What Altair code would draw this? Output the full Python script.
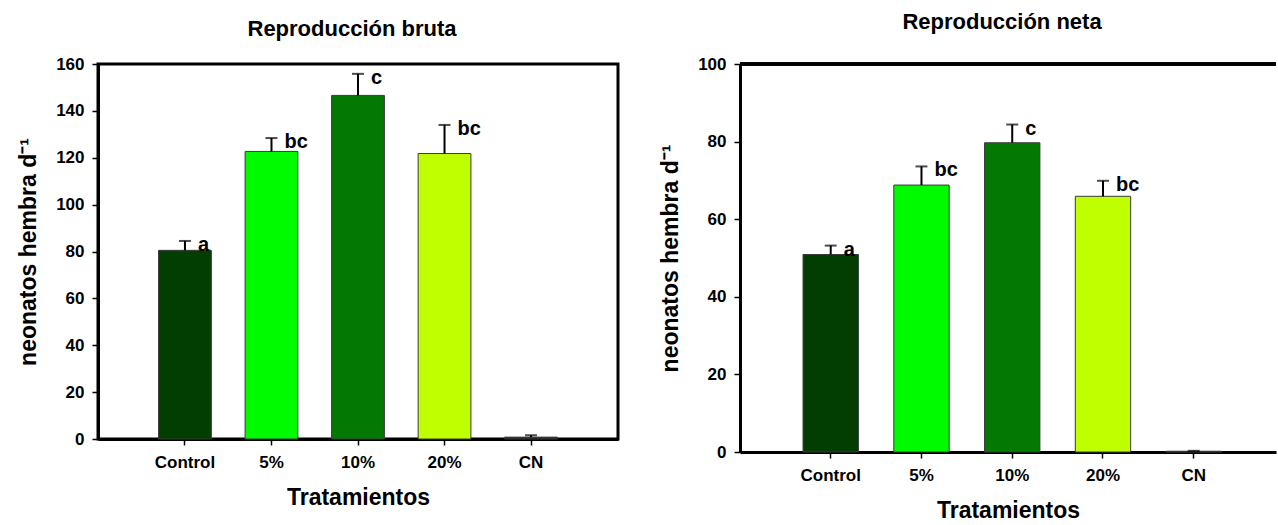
import altair as alt
import pandas as pd

# Treatments on the x axis
treatments = ["Control", "5%", "10%", "20%", "CN"]
bar_colors = ["#023d02", "#00fa00", "#037803", "#c0ff00", "#1a1a1a"]

# Gross reproduction (neonates per female per day): mean and standard error
bruta_mean = [80.5, 122.7, 146.6, 121.8, 0.8]
bruta_se = [4.0, 5.7, 9.2, 12.2, 0.8]
bruta_letters = ["a", "bc", "c", "bc", ""]

# Net reproduction
neta_mean = [50.9, 68.8, 79.7, 65.9, 0.2]
neta_se = [2.3, 4.8, 4.7, 4.0, 0.1]
neta_letters = ["a", "bc", "c", "bc", ""]

FONT = "Liberation Sans"


def make_frame(means, ses, letters):
    return pd.DataFrame({
        "tratamiento": treatments,
        "media": means,
        "sup": [m + s for m, s in zip(means, ses)],
        "letra": letters,
        "color": bar_colors,
    })


def panel(df, ymax, title, width, height, x_scale, title_offset, title_dx, framed):
    x = alt.X("tratamiento:N", sort=treatments, scale=x_scale,
              axis=alt.Axis(title="Tratamientos", labelAngle=0))
    y_scale = alt.Scale(domain=[0, ymax], nice=False, zero=True)
    y_axis = alt.Axis(title="neonatos hembra d⁻¹", values=list(range(0, ymax + 1, 20)))

    base = alt.Chart(df)
    bars = base.mark_bar(stroke="#3a3a3a", strokeWidth=1).encode(
        x=x,
        y=alt.Y("media:Q", scale=y_scale, axis=y_axis),
        color=alt.Color("color:N", scale=None),
    )
    err = base.mark_rule(color="black", strokeWidth=2).encode(
        x=alt.X("tratamiento:N", sort=treatments),
        y="media:Q",
        y2="sup:Q",
    )
    cap = base.mark_tick(color="black", size=12, thickness=2).encode(
        x=alt.X("tratamiento:N", sort=treatments),
        y="sup:Q",
    )
    letters = base.mark_text(
        align="left", baseline="middle", dx=13, dy=4,
        font=FONT, fontSize=20, fontWeight="bold", color="black",
    ).encode(
        x=alt.X("tratamiento:N", sort=treatments),
        y="sup:Q",
        text="letra:N",
    )
    layers = [bars, err, cap, letters]
    view = alt.ViewBackground(stroke="black", strokeWidth=3) if framed else \
        alt.ViewBackground(strokeWidth=0)
    if not framed:
        # top border of the plot area
        top = alt.Chart(df).mark_rule(color="black", strokeWidth=3).encode(
            y=alt.datum(ymax)
        )
        layers.append(top)
    return alt.layer(*layers).properties(
        width=width,
        height=height,
        view=view,
        title=alt.TitleParams(
            text=title, font=FONT, fontSize=22, fontWeight="bold", color="black",
            anchor="middle", frame="group", offset=title_offset, dx=title_dx,
        ),
    )


left = panel(
    make_frame(bruta_mean, bruta_se, bruta_letters), 160, "Reproducción bruta",
    520, 375,
    alt.Scale(paddingInner=0.39, paddingOuter=0.7),
    title_offset=14, title_dx=-6, framed=True,
)
right = panel(
    make_frame(neta_mean, neta_se, neta_letters), 100, "Reproducción neta",
    536, 388,
    alt.Scale(paddingInner=0.39, paddingOuter=0.648, align=0.536),
    title_offset=21, title_dx=-6, framed=False,
)

chart = alt.hconcat(left, right, spacing=122, bounds="flush").properties(
    padding={"left": 16, "top": 11, "right": 0, "bottom": 0},
).configure_axis(
    labelFont=FONT, labelFontSize=17, labelFontWeight="bold", labelColor="black",
    titleFont=FONT, titleFontSize=23, titleFontWeight="bold", titleColor="black",
    domainColor="black", domainWidth=3,
    tickColor="black", tickWidth=1.5, tickSize=6,
    grid=False,
).configure_axisY(
    labelPadding=8, titlePadding=15,
).configure_axisX(
    labelPadding=9, titlePadding=16,
)

chart.save("out.html", embed_options={"renderer": "svg", "actions": False})
